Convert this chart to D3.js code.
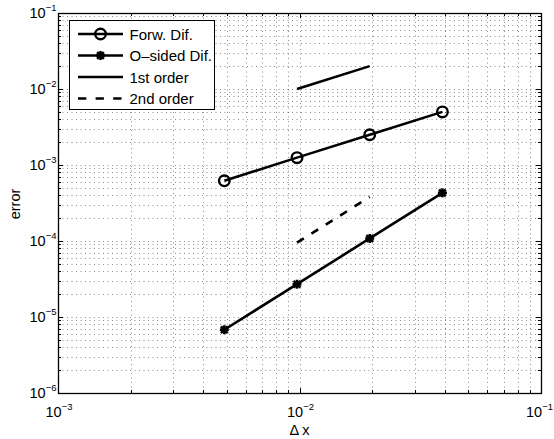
<!DOCTYPE html>
<html><head><meta charset="utf-8">
<script src="https://cdn.jsdelivr.net/npm/d3@7"></script>
<style>body{margin:0;background:#fff}svg{display:block}</style>
</head><body>
<script>
const dx = [0.0048828, 0.0097656, 0.0195313, 0.0390625];
const forwDif = [6.2e-4, 1.25e-3, 2.5e-3, 5.0e-3];
const oneSidedDif = [6.8e-6, 2.7e-5, 1.08e-4, 4.3e-4];
const firstOrderX = [0.0097656, 0.0195313];
const firstOrderY = [1.0e-2, 2.0e-2];
const secondOrderX = [0.0097656, 0.0195313];
const secondOrderY = [9.5e-5, 3.8e-4];
const xTickExps = [-3, -2, -1];
const yTickExps = [-6, -5, -4, -3, -2, -1];
const legendLabels = ["Forw. Dif.", "O\u2013sided Dif.", "1st order", "2nd order"];
const xLabel = "\u0394 x";
const yLabel = "error";

const W = 554, H = 439;
const L = 58, R = 541, T = 13, B = 393;
const FONT = "'Liberation Sans', Arial, Helvetica, sans-serif";

const svg = d3.select("body").append("svg").attr("width", W).attr("height", H)
  .style("font-family", FONT);
svg.append("rect").attr("width", W).attr("height", H).attr("fill", "#fff");

const x = d3.scaleLog().domain([1e-3, 1e-1]).range([L, R]);
const y = d3.scaleLog().domain([1e-6, 1e-1]).range([B, T]);

function allTicks(exps) {
  const out = [];
  for (let i = 0; i < exps.length; i++) {
    const base = Math.pow(10, exps[i]);
    out.push({v: base, major: true});
    if (i < exps.length - 1) for (let m = 2; m <= 9; m++) out.push({v: m * base, major: false});
  }
  return out;
}
const xt = allTicks(xTickExps), yt = allTicks(yTickExps);

// grid
const grid = svg.append("g").attr("stroke", "#000").attr("stroke-opacity", 0.45)
  .attr("stroke-width", 1).attr("stroke-dasharray", "1,3.5");
xt.forEach(t => {
  const px = Math.round(x(t.v)) + 0.5;
  grid.append("line").attr("x1", px).attr("x2", px).attr("y1", T).attr("y2", B);
});
yt.forEach(t => {
  const py = Math.round(y(t.v)) + 0.5;
  grid.append("line").attr("x1", L).attr("x2", R).attr("y1", py).attr("y2", py);
});

// ticks
const tk = svg.append("g").attr("stroke", "#000").attr("stroke-width", 1);
xt.forEach(t => {
  const px = Math.round(x(t.v)) + 0.5, len = t.major ? 5 : 3;
  tk.append("line").attr("x1", px).attr("x2", px).attr("y1", B).attr("y2", B - len);
  tk.append("line").attr("x1", px).attr("x2", px).attr("y1", T).attr("y2", T + len);
});
yt.forEach(t => {
  const py = Math.round(y(t.v)) + 0.5, len = t.major ? 5 : 3;
  tk.append("line").attr("x1", L).attr("x2", L + len).attr("y1", py).attr("y2", py);
  tk.append("line").attr("x1", R).attr("x2", R - len).attr("y1", py).attr("y2", py);
});

// box
svg.append("rect").attr("x", L + 0.5).attr("y", T + 0.5).attr("width", R - L).attr("height", B - T)
  .attr("fill", "none").attr("stroke", "#000").attr("stroke-width", 1.3);

// tick labels
xTickExps.forEach((e, i) => {
  const last = i === xTickExps.length - 1;
  const t = svg.append("text").attr("x", last ? W - 1 : x(Math.pow(10, e)) + 1).attr("y", 417)
    .attr("text-anchor", last ? "end" : "middle").attr("font-size", 14.5).attr("fill", "#000");
  t.append("tspan").text("10");
  t.append("tspan").attr("dy", -7).attr("font-size", 9.5).text("\u2212" + Math.abs(e));
});
yTickExps.forEach(e => {
  const t = svg.append("text").attr("x", L - 1.5).attr("y", y(Math.pow(10, e)) + 5)
    .attr("text-anchor", "end").attr("font-size", 14.5).attr("fill", "#000");
  t.append("tspan").text("10");
  t.append("tspan").attr("dy", -7).attr("font-size", 9.5).text("\u2212" + Math.abs(e));
});

// axis labels
svg.append("text").attr("x", (L + R) / 2).attr("y", 435).attr("text-anchor", "middle")
  .attr("font-size", 14.5).text(xLabel);
svg.append("text").attr("transform", `translate(19.5,${(T + B) / 2 + 1}) rotate(-90)`)
  .attr("text-anchor", "middle").attr("font-size", 14.5).text(yLabel);

// data
const line = d3.line().x(d => x(d[0])).y(d => y(d[1]));
const LW = 2.6;
const forwPts = dx.map((d, i) => [d, forwDif[i]]);
const osPts = dx.map((d, i) => [d, oneSidedDif[i]]);
const p1 = firstOrderX.map((d, i) => [d, firstOrderY[i]]);
const p2 = secondOrderX.map((d, i) => [d, secondOrderY[i]]);

const plot = svg.append("g");
plot.append("path").attr("d", line(forwPts)).attr("fill", "none").attr("stroke", "#000").attr("stroke-width", LW);
plot.append("path").attr("d", line(osPts)).attr("fill", "none").attr("stroke", "#000").attr("stroke-width", LW);
plot.append("path").attr("d", line(p1)).attr("fill", "none").attr("stroke", "#000").attr("stroke-width", LW);
plot.append("path").attr("d", line(p2)).attr("fill", "none").attr("stroke", "#000").attr("stroke-width", LW)
  .attr("stroke-dasharray", "8,9");

function circleMarker(g, cx, cy) {
  g.append("circle").attr("cx", cx).attr("cy", cy).attr("r", 5.3)
    .attr("fill", "none").attr("stroke", "#000").attr("stroke-width", 2.4);
}
function starMarker(g, cx, cy) {
  const s = 4.5, d = s * 0.75;
  const segs = [[-s, 0, s, 0], [0, -s, 0, s], [-d, -d, d, d], [-d, d, d, -d]];
  segs.forEach(q => g.append("line").attr("x1", cx + q[0]).attr("y1", cy + q[1])
    .attr("x2", cx + q[2]).attr("y2", cy + q[3]).attr("stroke", "#000").attr("stroke-width", 2.6));
  g.append("circle").attr("cx", cx).attr("cy", cy).attr("r", 2.8).attr("fill", "#000");
}
forwPts.forEach(p => circleMarker(plot, x(p[0]), y(p[1])));
osPts.forEach(p => starMarker(plot, x(p[0]), y(p[1])));

// legend
const lg = svg.append("g");
lg.append("rect").attr("x", 69.5).attr("y", 20.5).attr("width", 145).attr("height", 89)
  .attr("fill", "#fff").attr("stroke", "#000").attr("stroke-width", 1);
const rowsY = [34, 55.5, 77, 98.5];
legendLabels.forEach((lab, i) => {
  const yy = rowsY[i];
  const ln = lg.append("line").attr("x1", 78).attr("x2", 123).attr("y1", yy).attr("y2", yy)
    .attr("stroke", "#000").attr("stroke-width", LW);
  if (i === 3) ln.attr("stroke-dasharray", "8.3,9.3");
  if (i === 0) circleMarker(lg, 100.5, yy);
  if (i === 1) starMarker(lg, 100.5, yy);
  lg.append("text").attr("x", 129.5).attr("y", yy + 5.5).attr("font-size", 15).text(lab);
});
</script>
</body></html>
